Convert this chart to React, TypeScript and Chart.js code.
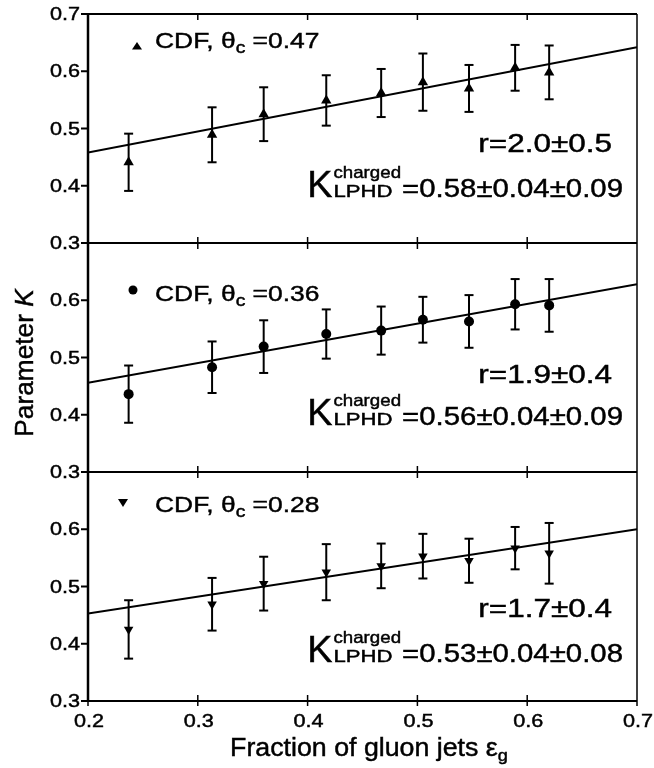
import React, { useEffect, useRef } from 'react';
import { Chart, registerables } from 'chart.js';

Chart.register(...registerables);

// ---------------- data ----------------
const gluonFraction = [0.237, 0.313, 0.36, 0.417, 0.467, 0.505, 0.547, 0.589, 0.62];

const kTheta047 = [0.441, 0.489, 0.525, 0.549, 0.562, 0.581, 0.57, 0.606, 0.598];
const errTheta047 = [0.05, 0.048, 0.047, 0.044, 0.042, 0.05, 0.041, 0.04, 0.047];

const kTheta036 = [0.436, 0.483, 0.519, 0.541, 0.547, 0.566, 0.563, 0.593, 0.591];
const errTheta036 = [0.05, 0.045, 0.046, 0.043, 0.042, 0.04, 0.046, 0.044, 0.046];

const kTheta028 = [0.425, 0.469, 0.505, 0.525, 0.536, 0.553, 0.545, 0.567, 0.558];
const errTheta028 = [0.051, 0.046, 0.047, 0.049, 0.039, 0.039, 0.0385, 0.037, 0.053];

const fitX = [0.2, 0.7];
const fitTheta047 = [0.458, 0.642];
const fitTheta036 = [0.456, 0.628];
const fitTheta028 = [0.453, 0.6];

const xTickValues = [0.2, 0.3, 0.4, 0.5, 0.6, 0.7];
const xTickLabels = ['0.2', '0.3', '0.4', '0.5', '0.6', '0.7'];
const yTickValues = [0.3, 0.4, 0.5, 0.6, 0.7];
const yTickLabels = ['0.3', '0.4', '0.5', '0.6', '0.7'];

const thetaLabels = ['0.47', '0.36', '0.28'];
const rLabels = ['r=2.0\u00B10.5', 'r=1.9\u00B10.4', 'r=1.7\u00B10.4'];
const kLpdhLabels = ['=0.58\u00B10.04\u00B10.09', '=0.56\u00B10.04\u00B10.09', '=0.53\u00B10.04\u00B10.08'];

const xTitle = 'Fraction of gluon jets \u03B5';
const xTitleSub = 'g';
const yTitle = 'Parameter ';
const yTitleItalic = 'K';

// ---------------- layout / style ----------------
const W = 654;
const H = 768;
const FONT = '"Liberation Sans", Arial, Helvetica, sans-serif';

type Panel = {
  axis: string;
  k: number[];
  err: number[];
  fit: number[];
  style: string;
  rotation: number;
  radius: number;
  theta: string;
  r: string;
  kl: string;
  legendBase: number;
  markerDx: number;
  markerDy: number;
  rBase: number;
  kBase: number;
};

const panels: Panel[] = [
  {
    axis: 'yTop', k: kTheta047, err: errTheta047, fit: fitTheta047,
    style: 'triangle', rotation: 0, radius: 6, theta: thetaLabels[0], r: rLabels[0], kl: kLpdhLabels[0],
    legendBase: 34, markerDx: 137, markerDy: -2, rBase: 138, kBase: 183,
  },
  {
    axis: 'yMid', k: kTheta036, err: errTheta036, fit: fitTheta036,
    style: 'circle', rotation: 0, radius: 5, theta: thetaLabels[1], r: rLabels[1], kl: kLpdhLabels[1],
    legendBase: 58, markerDx: 133, markerDy: -11, rBase: 140, kBase: 182,
  },
  {
    axis: 'yBot', k: kTheta028, err: errTheta028, fit: fitTheta028,
    style: 'triangle', rotation: 180, radius: 5.5, theta: thetaLabels[2], r: rLabels[2], kl: kLpdhLabels[2],
    legendBase: 40, markerDx: 123, markerDy: -9, rBase: 145, kBase: 190,
  },
];

function txt(
  ctx: CanvasRenderingContext2D, s: string, x: number, y: number,
  size: number, sx: number, align: 'left' | 'right' | 'center' = 'left', style = ''
): number {
  ctx.save();
  ctx.font = `${style} ${size}px ${FONT}`;
  ctx.textAlign = 'left';
  ctx.textBaseline = 'alphabetic';
  ctx.fillStyle = '#000';
  ctx.strokeStyle = '#000';
  ctx.lineWidth = 0.45;
  const w = ctx.measureText(s).width * sx;
  const x0 = align === 'right' ? x - w : align === 'center' ? x - w / 2 : x;
  ctx.translate(x0, y);
  ctx.scale(sx, 1);
  ctx.fillText(s, 0, 0);
  ctx.strokeText(s, 0, 0);
  ctx.restore();
  return w;
}

function measure(ctx: CanvasRenderingContext2D, s: string, size: number, sx: number, style = ''): number {
  ctx.save();
  ctx.font = `${style} ${size}px ${FONT}`;
  const w = ctx.measureText(s).width * sx;
  ctx.restore();
  return w;
}

function line(ctx: CanvasRenderingContext2D, x1: number, y1: number, x2: number, y2: number, lw: number) {
  ctx.beginPath();
  ctx.lineWidth = lw;
  ctx.moveTo(x1, y1);
  ctx.lineTo(x2, y2);
  ctx.stroke();
}

const decorPlugin = {
  id: 'decor',
  beforeDatasetsDraw(chart: any) {
    const ctx: CanvasRenderingContext2D = chart.ctx;
    const xs = chart.scales.x;
    ctx.save();
    ctx.strokeStyle = '#000';
    panels.forEach((p) => {
      const ys = chart.scales[p.axis];
      gluonFraction.forEach((xv, i) => {
        const x = xs.getPixelForValue(xv);
        const y1 = ys.getPixelForValue(p.k[i] + p.err[i]);
        const y2 = ys.getPixelForValue(p.k[i] - p.err[i]);
        line(ctx, x, y1, x, y2, 2);
        line(ctx, x - 4.5, y1, x + 4.5, y1, 2);
        line(ctx, x - 4.5, y2, x + 4.5, y2, 2);
      });
    });
    ctx.restore();
  },
  afterDraw(chart: any) {
    const ctx: CanvasRenderingContext2D = chart.ctx;
    const xs = chart.scales.x;
    const left = xs.left;
    const right = xs.right;
    ctx.save();
    ctx.strokeStyle = '#000';
    ctx.fillStyle = '#000';

    panels.forEach((p, pi) => {
      const ys = chart.scales[p.axis];
      const top = ys.top;
      const bottom = ys.bottom;
      // frame
      line(ctx, left, top, right, top, 2);
      line(ctx, left, bottom, right, bottom, 2);
      line(ctx, left, top, left, bottom, 2.5);
      line(ctx, right, top, right, bottom, 1.5);
      // y ticks
      yTickValues.forEach((v, i) => {
        const y = ys.getPixelForValue(v);
        line(ctx, left - 7, y, left, y, 2);
        if (pi === 0 || v < 0.65) {
          txt(ctx, yTickLabels[i], left - 8, y + 6, 18, 1.2, 'right');
        }
      });
      // x ticks (inward)
      xTickValues.forEach((v) => {
        if (v <= 0.2 || v >= 0.7) return;
        const x = xs.getPixelForValue(v);
        line(ctx, x, top, x, top + 6, 1.5);
        line(ctx, x, bottom - 6, x, bottom, 1.5);
      });

      // legend
      const lb = top + p.legendBase;
      const mx = p.markerDx;
      const my = lb + p.markerDy;
      ctx.beginPath();
      if (p.style === 'circle') {
        ctx.arc(mx, my, 4.5, 0, Math.PI * 2);
      } else if (p.rotation === 0) {
        ctx.moveTo(mx - 5, my + 3.5);
        ctx.lineTo(mx + 5, my + 3.5);
        ctx.lineTo(mx, my - 4);
      } else {
        ctx.moveTo(mx - 5, my - 4);
        ctx.lineTo(mx + 5, my - 4);
        ctx.lineTo(mx, my + 4);
      }
      ctx.closePath();
      ctx.fill();
      let cx = 155;
      cx += txt(ctx, 'CDF, \u03B8', cx, lb, 22, 1.2);
      cx += txt(ctx, 'c', cx, lb + 5, 16, 1.2);
      txt(ctx, ' =' + p.theta, cx, lb, 22, 1.2);

      // r annotation
      txt(ctx, p.r, 612, top + p.rBase, 25, 1.26, 'right');

      // K annotation
      const kb = top + p.kBase;
      const numW = txt(ctx, p.kl, 623, kb, 26, 1.13, 'right');
      const numLeft = 623 - numW;
      const supW = measure(ctx, 'charged', 17, 1.1);
      const subW = measure(ctx, 'LPHD', 17, 1.3);
      const scriptLeft = numLeft - Math.max(subW, supW) - 1;
      txt(ctx, 'charged', scriptLeft, kb - 19, 17, 1.1);
      txt(ctx, 'LPHD', scriptLeft, kb, 17, 1.3);
      txt(ctx, 'K', scriptLeft - 1, kb, 36, 1.05, 'right');
    });

    // x tick labels + bottom ticks
    const bottomAxis = chart.scales[panels[2].axis];
    xTickValues.forEach((v, i) => {
      const x = xs.getPixelForValue(v);
      line(ctx, x, bottomAxis.bottom, x, bottomAxis.bottom + 5, 1.5);
      txt(ctx, xTickLabels[i], x + 1, bottomAxis.bottom + 26, 18, 1.2, 'center');
    });

    // x title
    const tW = measure(ctx, xTitle, 25, 1.07);
    const sW = measure(ctx, xTitleSub, 17, 1.07);
    const tx = 369 - (tW + sW) / 2;
    txt(ctx, xTitle, tx, 756, 25, 1.07);
    txt(ctx, xTitleSub, tx + tW, 761, 17, 1.07);

    // y title
    ctx.save();
    ctx.translate(33, 363);
    ctx.rotate(-Math.PI / 2);
    const a = measure(ctx, yTitle, 25, 1.05);
    const b = measure(ctx, yTitleItalic, 25, 1.05, 'italic');
    txt(ctx, yTitle, -(a + b) / 2, 0, 25, 1.05);
    txt(ctx, yTitleItalic, -(a + b) / 2 + a, 0, 25, 1.05, 'left', 'italic');
    ctx.restore();

    ctx.restore();
  },
};

function yAxis() {
  return {
    type: 'linear',
    position: 'left',
    stack: 'panels',
    stackWeight: 1,
    min: 0.3,
    max: 0.7,
    ticks: { display: false, stepSize: 0.1 },
    grid: { display: false },
    border: { display: false },
    afterFit: (s: any) => { s.width = 88; },
  };
}

export default function App() {
  const ref = useRef<HTMLCanvasElement | null>(null);
  useEffect(() => {
    document.body.style.margin = '0';
    const canvas = ref.current;
    if (!canvas) return;
    const datasets: any[] = [];
    panels.forEach((p) => {
      datasets.push({
        type: 'line',
        data: fitX.map((x, i) => ({ x, y: p.fit[i] })),
        yAxisID: p.axis,
        borderColor: '#000',
        borderWidth: 2,
        pointRadius: 0,
        fill: false,
        tension: 0,
      });
      datasets.push({
        type: 'scatter',
        data: gluonFraction.map((x, i) => ({ x, y: p.k[i] })),
        yAxisID: p.axis,
        pointStyle: p.style,
        rotation: p.rotation,
        pointRadius: p.radius,
        pointHoverRadius: p.radius,
        backgroundColor: '#000',
        borderColor: '#000',
        borderWidth: 0,
        showLine: false,
      });
    });
    const chart = new Chart(canvas, {
      type: 'scatter',
      data: { datasets },
      options: {
        animation: false,
        responsive: false,
        events: [],
        layout: { padding: { top: 14, right: 17, bottom: 0, left: 0 } },
        plugins: { legend: { display: false }, tooltip: { enabled: false } },
        scales: {
          x: {
            type: 'linear',
            position: 'bottom',
            min: 0.2,
            max: 0.7,
            ticks: { display: false, stepSize: 0.1 },
            grid: { display: false },
            border: { display: false },
            afterFit: (s: any) => { s.height = 67; },
          },
          yBot: yAxis(),
          yMid: yAxis(),
          yTop: yAxis(),
        } as any,
      },
      plugins: [decorPlugin],
    } as any);
    return () => chart.destroy();
  }, []);
  return (
    <div style={{ width: W, height: H, background: '#fff' }}>
      <canvas ref={ref} width={W} height={H} style={{ display: 'block' }} />
    </div>
  );
}
